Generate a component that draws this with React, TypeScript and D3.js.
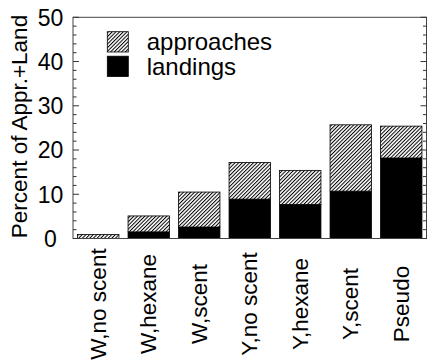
import React from "react";
import * as d3 from "d3";

const categories = ["W,no scent", "W,hexane", "W,scent", "Y,no scent", "Y,hexane", "Y,scent", "Pseudo"];
const landings = [0, 1.5, 2.6, 8.9, 7.7, 10.7, 18.2];
const approaches = [0.9, 3.6, 7.9, 8.3, 7.7, 15.0, 7.2];
const yTicks = [0, 10, 20, 30, 40, 50];
const yMinorTicks = d3.range(0, 51, 2);
const legendLabels = ["approaches", "landings"];
const yTitle = "Percent of Appr.+Land";

const W = 427;
const H = 363;
const L = 73;
const R = 426.5;
const T = 17.3;
const B = 238.5;
const FONT = "'Liberation Sans', Arial, Helvetica, sans-serif";

export default function App() {
  const x = d3.scaleBand<string>().domain(categories).range([L, R]).paddingInner(0.18).paddingOuter(0.09);
  const y = d3.scaleLinear().domain([0, 50]).range([B, T]);
  const rows = categories.map((c, i) => ({ cat: c, landings: landings[i], approaches: approaches[i] }));
  const stack = d3.stack<any>().keys(["landings", "approaches"])(rows);
  const bw = x.bandwidth();

  return (
    <svg width={W} height={H} style={{ position: "absolute", left: 0, top: 0, background: "#fff" }}>
      <defs>
        <pattern id="hatch" patternUnits="userSpaceOnUse" width={2.6} height={2.6} patternTransform="rotate(45)">
          <rect width={2.6} height={2.6} fill="#fff" />
          <line x1={0.5} y1={0} x2={0.5} y2={2.6} stroke="#000" strokeWidth={1} />
        </pattern>
      </defs>

      {/* bars */}
      {stack.map((s) =>
        s.map((d, i) => {
          const h = y(d[0]) - y(d[1]);
          if (h <= 0) return null;
          return (
            <rect
              key={s.key + i}
              x={x(categories[i])}
              y={y(d[1])}
              width={bw}
              height={h}
              fill={s.key === "landings" ? "#000" : "url(#hatch)"}
              stroke="#000"
              strokeWidth={0.8}
            />
          );
        })
      )}

      {/* frame */}
      <rect x={L} y={T} width={R - L} height={B - T} fill="none" stroke="#444" strokeWidth={1} />

      {/* ticks */}
      {yMinorTicks.map((t) => {
        const major = t % 10 === 0;
        const len = major ? 6 : 3.5;
        return (
          <g key={"t" + t}>
            <line x1={L} x2={L + len} y1={y(t)} y2={y(t)} stroke="#333" strokeWidth={1} />
            <line x1={R} x2={R - len} y1={y(t)} y2={y(t)} stroke="#333" strokeWidth={1} />
          </g>
        );
      })}

      {/* y tick labels */}
      {yTicks.map((t) => (
        <text key={"l" + t} x={50.5} y={y(t)} dy="0.36em" textAnchor="middle" fontFamily={FONT} fontSize={23} fill="#000">
          {t}
        </text>
      ))}

      {/* y title */}
      <text transform={`translate(27,126.5) rotate(-90)`} textAnchor="middle" fontFamily={FONT} fontSize={22.5} fill="#000">
        {yTitle}
      </text>

      {/* x labels */}
      {categories.map((c) => (
        <text
          key={"x" + c}
          transform={`translate(${(x(c) as number) + bw / 2 + 7.5},304) rotate(-90)`}
          textAnchor="middle"
          fontFamily={FONT}
          fontSize={22.5}
          fill="#000"
        >
          {c}
        </text>
      ))}

      {/* legend */}
      {legendLabels.map((lab, i) => (
        <g key={lab}>
          <rect
            x={107.3}
            y={31.7 + i * 24.5}
            width={21}
            height={20.3}
            fill={i === 0 ? "url(#hatch)" : "#000"}
            stroke="#000"
            strokeWidth={0.8}
          />
          <text x={146.7} y={41.8 + i * 24.5} dy="0.36em" fontFamily={FONT} fontSize={24} fill="#000">
            {lab}
          </text>
        </g>
      ))}
    </svg>
  );
}
